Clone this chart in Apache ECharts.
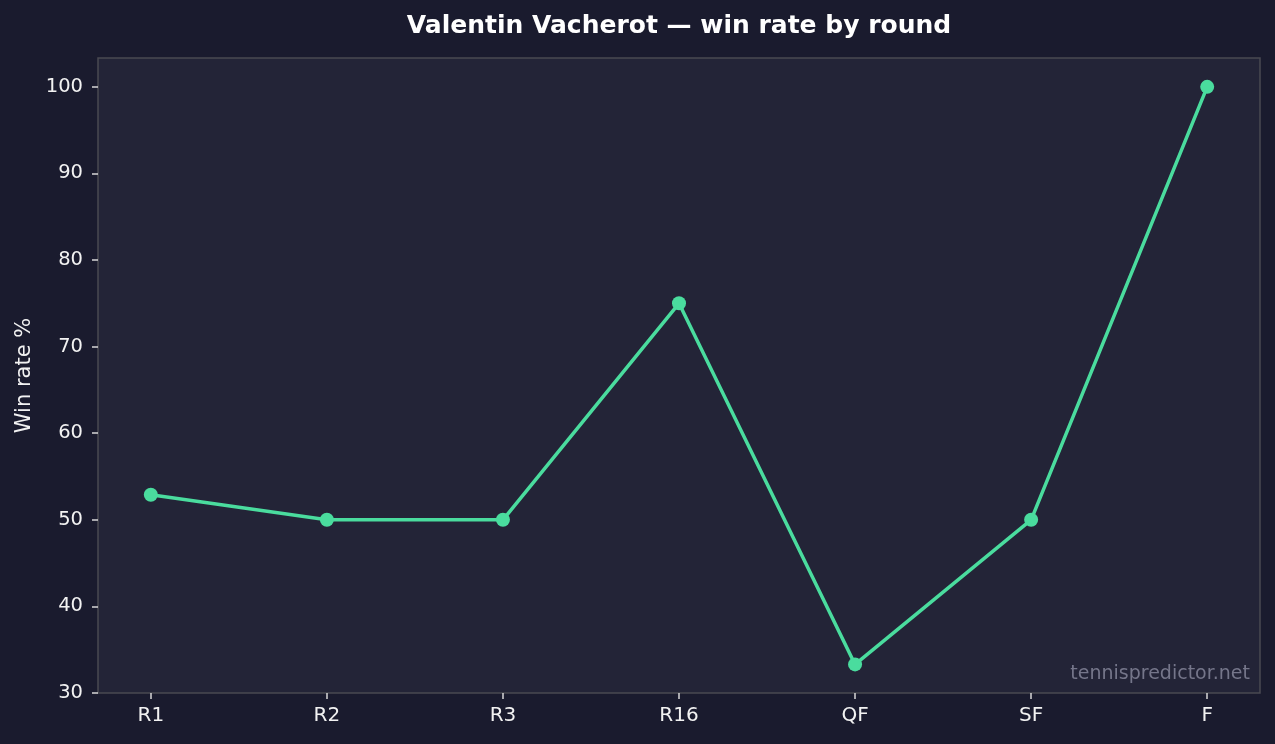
<!DOCTYPE html>
<html><head><meta charset="utf-8">
<script src="https://cdn.jsdelivr.net/npm/echarts@6/dist/echarts.min.js"></script>
<style>html,body{margin:0;padding:0;background:#1a1b2e;}#c{width:1275px;height:744px;}</style>
</head><body><div id="c"></div>
<script>
const categories = ['R1','R2','R3','R16','QF','SF','F'];
const winRates = [52.9, 50, 50, 75, 33.3, 50, 100];
const yTicks = [30,40,50,60,70,80,90,100];

const chart = echarts.init(document.getElementById('c'));
const font = '"DejaVu Sans"';
chart.setOption({
  backgroundColor: '#1a1b2e',
  animation: false,
  title: {
    text: 'Valentin Vacherot — win rate by round',
    left: 674, top: 9, textAlign: 'center',
    textStyle: {color:'#ffffff', fontFamily: font, fontSize: 25, fontWeight:'bold'}
  },
  grid: {left: 98, right: 15, top: 58, bottom: 51, show: true,
    backgroundColor: '#232437', borderColor: '#4a4a52', borderWidth: 1.5},
  xAxis: {
    type: 'value', min: -0.3, max: 6.3,
    splitLine: {show:false},
    axisLine: {show: false, onZero: false},
    axisTick: {show:true, length: 6, customValues: categories.map((c,i)=>i), lineStyle:{color:'#d8d8d8', width:1.5}},
    axisLabel: {customValues: categories.map((c,i)=>i), formatter: v => categories[Math.round(v)] || '',
      color:'#f2f2f2', fontFamily: font, fontSize: 20, margin: 13}
  },
  yAxis: {
    type: 'value', min: 30, max: 103.33,
    name: 'Win rate %', nameLocation: 'middle', nameGap: 62,
    nameTextStyle: {color:'#f2f2f2', fontFamily: font, fontSize: 21},
    splitLine: {show:false},
    axisLine: {show: false, onZero: false},
    axisTick: {show:true, length: 6, customValues: yTicks, lineStyle:{color:'#d8d8d8', width:1.5}},
    axisLabel: {customValues: yTicks, color:'#f2f2f2', fontFamily: font, fontSize: 19.5, margin: 15}
  },
  graphic: [{
    type: 'text', right: 25, top: 665,
    style: {text: 'tennispredictor.net', fill: '#75768a', font: '19px "DejaVu Sans"'}
  }],
  series: [{
    type: 'line',
    data: winRates.map((v,i)=>[i, v]),
    symbol: 'circle', symbolSize: 14,
    lineStyle: {color:'#4adc9e', width: 3.5},
    itemStyle: {color:'#4adc9e'}
  }]
});
</script></body></html>
